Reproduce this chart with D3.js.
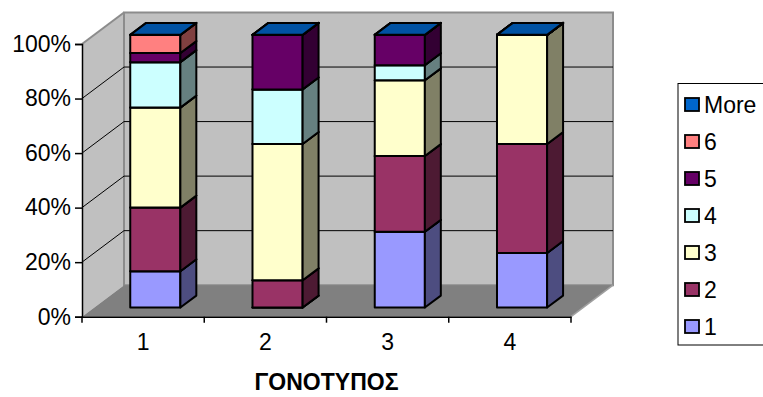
<!DOCTYPE html>
<html>
<head>
<meta charset="utf-8">
<script src="https://cdn.jsdelivr.net/npm/d3@7"></script>
<style>
  html, body { margin: 0; padding: 0; background: #fff; }
  svg { display: block; }
  text { font-family: Arial, "Liberation Sans", sans-serif; fill: #000; }
</style>
</head>
<body>
<svg id="chart" width="763" height="397"></svg>
<script>
// Genotype categories and frequency bins (histogram counts per genotype)
const categories = ["1", "2", "3", "4"];
const bins = ["1", "2", "3", "4", "5", "6", "More"];
const bin1 = [4, 0, 5, 1];
const bin2 = [7, 1, 5, 2];
const bin3 = [11, 5, 5, 2];
const bin4 = [5, 2, 1, 0];
const bin5 = [1, 2, 2, 0];
const bin6 = [2, 0, 0, 0];
const binMore = [0, 0, 0, 0];
const yTicks = [0, 0.2, 0.4, 0.6, 0.8, 1];
const xTitle = "ΓΟΝΟΤΥΠΟΣ";

const binColors = ["#9999FF", "#993366", "#FFFFCC", "#CCFFFF", "#660066", "#FF8080", "#0066CC"];
const FONT = "Arial, 'Liberation Sans', sans-serif";
const FS = 23;

const binValues = [bin1, bin2, bin3, bin4, bin5, bin6, binMore];
const rows = categories.map((c, i) => {
  const r = { cat: c };
  bins.forEach((b, j) => { r[b] = binValues[j][i]; });
  return r;
});
const layers = d3.stack().keys(bins).offset(d3.stackOffsetExpand)(rows);

const svg = d3.select("#chart");

// Front plane of the plot box and its depth offset
const x = d3.scaleBand().domain(categories).range([82, 571]);
const y = d3.scaleLinear().domain([0, 1]).range([316.7, 44]);
const DX = 42, DY = -31.5;
const P = (px, v, t) => [px + t * DX, y(v) + t * DY];
const poly = pts => "M" + pts.map(p => p.join(",")).join("L") + "Z";

const xL = x.range()[0], xR = x.range()[1];

// Walls and floor
svg.append("path")
  .attr("d", poly([P(xL, 1, 0), P(xL, 1, 1), P(xL, 0, 1), P(xL, 0, 0)]))
  .attr("fill", "#C0C0C0").attr("stroke", "none");
svg.append("path")
  .attr("d", poly([P(xL, 1, 1), P(xR, 1, 1), P(xR, 0, 1), P(xL, 0, 1)]))
  .attr("fill", "#C0C0C0").attr("stroke", "#8C8C8C").attr("stroke-width", 2);
svg.append("path")
  .attr("d", poly([P(xL, 0, 0), P(xL, 0, 1), P(xR, 0, 1), P(xR, 0, 0)]))
  .attr("fill", "#808080").attr("stroke", "none");
svg.append("path")
  .attr("d", "M" + P(xR, 0, 1).join(",") + "L" + P(xR, 0, 0).join(","))
  .attr("stroke", "#A0A0A0").attr("stroke-width", 1.5).attr("fill", "none");
svg.append("path")
  .attr("d", "M" + P(xL, 1, 0).join(",") + "L" + P(xL, 1, 1).join(","))
  .attr("stroke", "#8C8C8C").attr("stroke-width", 2).attr("fill", "none");

// Gridlines on the side wall and back wall
const grid = svg.append("g").attr("stroke", "#000").attr("stroke-width", 1).attr("fill", "none");
yTicks.filter(v => v > 0 && v < 1).forEach(v => {
  grid.append("path").attr("d", "M" + P(xL, v, 0).join(",") + "L" + P(xL, v, 1).join(",") + "L" + P(xR, v, 1).join(","));
});

// Stacked 3D columns
const tFront = 0.29, tBack = 0.67, wFrac = 0.41;
const bw = x.step() * wFrac;
const shade = (c, k) => { const h = d3.rgb(c); return d3.rgb(h.r * k, h.g * k, h.b * k).formatHex(); };
const bars = svg.append("g").attr("stroke", "#000").attr("stroke-width", 2).attr("stroke-linejoin", "round");
categories.forEach((c, i) => {
  const cx = x(c) + x.bandwidth() / 2;
  const x0 = cx - bw / 2, x1 = cx + bw / 2;
  layers.forEach((layer, j) => {
    const [v0, v1] = layer[i];
    const col = binColors[j];
    bars.append("path").attr("fill", col)
      .attr("d", poly([P(x0, v0, tFront), P(x1, v0, tFront), P(x1, v1, tFront), P(x0, v1, tFront)]));
    bars.append("path").attr("fill", shade(col, 0.5))
      .attr("d", poly([P(x1, v0, tFront), P(x1, v0, tBack), P(x1, v1, tBack), P(x1, v1, tFront)]));
    bars.append("path").attr("fill", shade(col, 0.8))
      .attr("d", poly([P(x0, v1, tFront), P(x1, v1, tFront), P(x1, v1, tBack), P(x0, v1, tBack)]));
  });
});

// Value axis
const yAxis = svg.append("g").attr("transform", `translate(${xL},0)`)
  .call(d3.axisLeft(y).tickValues(yTicks).tickFormat(d3.format(".0%")).tickSize(7).tickPadding(4));
yAxis.select(".domain").attr("stroke", "#000").attr("stroke-width", 1.5);
yAxis.selectAll(".tick line").attr("stroke", "#000").attr("stroke-width", 1.5);
yAxis.selectAll(".tick text").attr("font-size", FS).attr("font-family", FONT).attr("fill", "#000");

// Category axis with ticks at band edges
const xAxis = svg.append("g").attr("transform", `translate(0,${y(0)})`)
  .call(d3.axisBottom(x).tickSize(0).tickPadding(17));
xAxis.select(".domain").attr("stroke", "#000").attr("stroke-width", 1.5);
xAxis.selectAll(".tick text").attr("font-size", FS).attr("font-family", FONT).attr("fill", "#000");
const edges = categories.map(c => x(c)).concat([xR]);
svg.append("g").selectAll("line").data(edges).join("line")
  .attr("x1", d => d).attr("x2", d => d)
  .attr("y1", y(0)).attr("y2", y(0) + 6)
  .attr("stroke", "#000").attr("stroke-width", 1.5);

svg.append("text")
  .attr("x", (xL + xR) / 2).attr("y", 390)
  .attr("text-anchor", "middle").attr("font-size", 23).attr("font-weight", "bold")
  .text(xTitle);

// Legend (top entry is the last bin)
const legend = svg.append("g");
legend.append("rect").attr("x", 678).attr("y", 83.5).attr("width", 100).attr("height", 261.5)
  .attr("fill", "#fff").attr("stroke", "#000").attr("stroke-width", 1);
const legendItems = bins.map((b, j) => ({ label: b, color: binColors[j] })).reverse();
const ly = d3.scalePoint().domain(legendItems.map(d => d.label)).range([104.5, 326.5]);
const li = legend.selectAll("g.item").data(legendItems).join("g").attr("class", "item")
  .attr("transform", d => `translate(0,${ly(d.label)})`);
li.append("rect").attr("x", 685).attr("y", -6.5).attr("width", 14).attr("height", 13)
  .attr("fill", d => d.color).attr("stroke", "#000").attr("stroke-width", 1.8);
li.append("text").attr("x", 704).attr("y", 8).attr("font-size", FS).text(d => d.label);
</script>
</body>
</html>
